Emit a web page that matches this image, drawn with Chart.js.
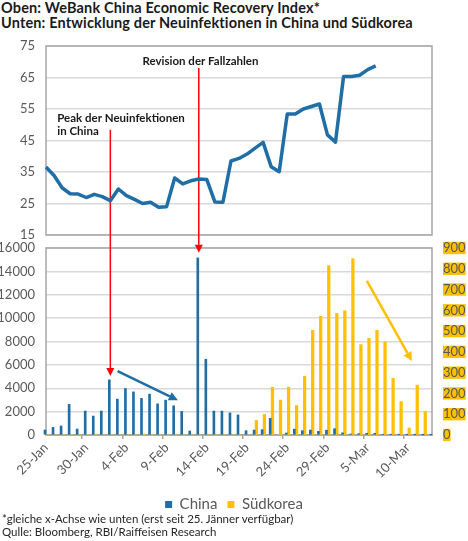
<!DOCTYPE html>
<html><head><meta charset="utf-8">
<script src="https://cdn.jsdelivr.net/npm/chart.js@4.4.1/dist/chart.umd.min.js"></script>
<style>
html,body{margin:0;padding:0;background:#fff;width:468px;height:541px;overflow:hidden;font-family:Lato,'Open Sans',sans-serif;}
#title{position:absolute;left:1px;top:0px;font-weight:bold;font-size:14.5px;line-height:15px;color:#1a1a1a;white-space:nowrap;letter-spacing:0.15px;}
#topWrap{position:absolute;left:0;top:36px;width:468px;height:205px;}
#bottomWrap{position:absolute;left:0;top:241px;width:468px;height:281px;}
#notes{position:absolute;left:2px;top:512px;font-size:11.5px;line-height:13px;color:#262626;white-space:nowrap;}
canvas{display:block;}
</style></head><body>
<div id="title">Oben: WeBank China Economic Recovery Index*<br>Unten: Entwicklung der Neuinfektionen in China und Südkorea</div>
<div id="topWrap"><canvas id="top" width="468" height="205"></canvas></div>
<div id="bottomWrap"><canvas id="bottom" width="468" height="281"></canvas></div>
<div id="notes">*gleiche x-Achse wie unten (erst seit 25. Jänner verfügbar)<br>Qulle: Bloomberg, RBI/Raiffeisen Research</div>
<script>
// ---------- data ----------
const dates = ['25-Jan','26-Jan','27-Jan','28-Jan','29-Jan','30-Jan','31-Jan',
  '1-Feb','2-Feb','3-Feb','4-Feb','5-Feb','6-Feb','7-Feb','8-Feb','9-Feb','10-Feb',
  '11-Feb','12-Feb','13-Feb','14-Feb','15-Feb','16-Feb','17-Feb','18-Feb','19-Feb',
  '20-Feb','21-Feb','22-Feb','23-Feb','24-Feb','25-Feb','26-Feb','27-Feb','28-Feb','29-Feb',
  '1-Mar','2-Mar','3-Mar','4-Mar','5-Mar','6-Mar','7-Mar','8-Mar','9-Mar','10-Mar',
  '11-Mar','12-Mar','13-Mar'];
const tickLabels = ['25-Jan','30-Jan','4-Feb','9-Feb','14-Feb','19-Feb','24-Feb','29-Feb','5-Mar','10-Mar'];
const recoveryIndex = [36.6,33.9,30.0,28.1,28.0,26.9,27.9,27.2,25.9,29.6,27.5,26.3,25.0,25.4,23.8,24.0,
  33.1,31.2,32.2,32.8,32.6,25.5,25.4,38.5,39.3,40.7,42.6,44.4,36.7,35.1,53.4,53.4,55.0,55.8,56.6,
  46.8,44.5,65.3,65.3,65.7,67.5,68.7,null,null,null,null,null,null,null];
const chinaCases = [430,650,770,2620,510,2050,1620,2050,4720,3070,3980,3690,3130,3500,2670,2980,2500,2020,
  340,15150,6480,2050,2050,1890,1720,370,425,455,1420,null,170,500,370,425,312,410,540,185,85,113,
  142,142,57,40,40,20,20,10,10];
const koreaCases = [0,0,0,0,0,0,4,0,0,0,0,0,4,0,0,0,0,0,0,0,0,0,0,0,0,0,
  70,99,229,168,230,142,283,504,571,815,585,598,849,435,465,504,448,273,161,34,240,113,null];

// ---------- styles ----------
const BLUE = '#1f6ea6', GOLD = '#FFC000', RED = '#ff0000';
const TXT = '#595959', GRID = '#d9d9d9', FRAME = '#a6a6a6';
const FONT = 'Lato';

const frame = {
  id: 'frame',
  beforeDatasetsDraw(chart) {
    const {ctx, chartArea: a} = chart;
    ctx.save();
    ctx.strokeStyle = FRAME; ctx.lineWidth = 1.5;
    ctx.strokeRect(a.left, a.top, a.right - a.left, a.bottom - a.top);
    ctx.restore();
  }
};

function arrow(ctx, x1, y1, x2, y2, color, w, hl, hw) {
  const ang = Math.atan2(y2 - y1, x2 - x1);
  const bx = x2 - hl * Math.cos(ang), by = y2 - hl * Math.sin(ang);
  ctx.save();
  ctx.strokeStyle = color; ctx.fillStyle = color; ctx.lineWidth = w;
  ctx.beginPath(); ctx.moveTo(x1, y1); ctx.lineTo(bx, by); ctx.stroke();
  ctx.beginPath();
  ctx.moveTo(x2, y2);
  ctx.lineTo(bx + hw * Math.sin(ang), by - hw * Math.cos(ang));
  ctx.lineTo(bx - hw * Math.sin(ang), by + hw * Math.cos(ang));
  ctx.closePath(); ctx.fill();
  ctx.restore();
}

const topAnnot = {
  id: 'topAnnot',
  beforeDatasetsDraw(chart) {
    const {ctx, scales: {x, y}} = chart;
    ctx.save();
    ctx.strokeStyle = RED; ctx.lineWidth = 1.5;
    const xr = x.getPixelForValue(19);
    ctx.beginPath(); ctx.moveTo(xr, y.getPixelForValue(68)); ctx.lineTo(xr, chart.height); ctx.stroke();
    const xp = x.getPixelForValue(8);
    ctx.beginPath(); ctx.moveTo(xp, y.getPixelForValue(48.4)); ctx.lineTo(xp, chart.height); ctx.stroke();
    ctx.restore();
  },
  afterDraw(chart) {
    const {ctx, scales: {x, y}} = chart;
    ctx.save();
    ctx.fillStyle = '#1a1a1a';
    ctx.font = 'bold 11.5px ' + FONT;
    ctx.textBaseline = 'middle'; ctx.textAlign = 'left';
    ctx.fillText('Revision der Fallzahlen', x.getPixelForValue(12), y.getPixelForValue(70.3));
    ctx.fillText('Peak der Neuinfektionen', x.getPixelForValue(1.4), y.getPixelForValue(51.9));
    ctx.fillText('in China', x.getPixelForValue(1.4), y.getPixelForValue(47.8));
    ctx.restore();
  }
};

const bottomAnnot = {
  id: 'bottomAnnot',
  afterDatasetsDraw(chart) {
    const {ctx, scales: {x, y, y1}} = chart;
    const xr = x.getPixelForValue(19), xp = x.getPixelForValue(8);
    arrow(ctx, xr, 0, xr, y.getPixelForValue(15600), RED, 1.5, 8, 4);
    arrow(ctx, xp, 0, xp, y.getPixelForValue(5050), RED, 1.5, 8, 4);
    arrow(ctx, x.getPixelForValue(8.9), y.getPixelForValue(5470), x.getPixelForValue(16.4), y.getPixelForValue(2980), BLUE, 2.5, 9, 4.5);
    arrow(ctx, x.getPixelForValue(39.9), y1.getPixelForValue(742), x.getPixelForValue(45.5), y1.getPixelForValue(356), GOLD, 2.5, 9, 4.5);
  }
};

Chart.defaults.font.family = FONT;
const noPad = s => { s.paddingTop = 0; s.paddingBottom = 0; };
const plain = v => String(v);

new Chart(document.getElementById('top'), {
  type: 'line',
  data: {labels: dates, datasets: [{
    label: 'WeBank China Economic Recovery Index', data: recoveryIndex,
    borderColor: BLUE, backgroundColor: BLUE, borderWidth: 3.5, pointRadius: 0, tension: 0, fill: false, clip: false,
    borderJoinStyle: 'round'
  }]},
  options: {
    responsive: false, animation: false,
    layout: {padding: {top: 10, bottom: 6, left: 0, right: 36}},
    plugins: {legend: {display: false}, tooltip: {enabled: false}},
    scales: {
      x: {type: 'category', offset: false, display: false},
      y: {min: 15, max: 75,
        ticks: {stepSize: 10, color: TXT, font: {size: 13}, padding: 11, callback: plain},
        grid: {color: GRID, lineWidth: 1.5, drawTicks: false},
        border: {display: false},
        afterFit: s => { s.width = 46; noPad(s); }}
    }
  },
  plugins: [frame, topAnnot]
});

new Chart(document.getElementById('bottom'), {
  type: 'bar',
  data: {labels: dates, datasets: [
    {label: 'China', data: chinaCases, backgroundColor: BLUE, barThickness: 2, yAxisID: 'y', clip: false},
    {label: 'Südkorea', data: koreaCases, backgroundColor: GOLD, barThickness: 2.6, yAxisID: 'y1', clip: false}
  ]},
  options: {
    responsive: false, animation: false,
    layout: {padding: {top: 7, left: 0, right: 0, bottom: 0}},
    plugins: {
      legend: {position: 'bottom', labels: {boxWidth: 7, boxHeight: 7, color: TXT, font: {size: 15}, padding: 10}},
      tooltip: {enabled: false}
    },
    scales: {
      x: {type: 'category', offset: false,
        grid: {drawOnChartArea: false, tickLength: 4, lineWidth: 1.5,
          tickColor: c => (c.index % 5 === 0 ? FRAME : 'rgba(0,0,0,0)')},
        border: {color: FRAME, width: 1.5},
        ticks: {autoSkip: false, maxRotation: 45, minRotation: 45, color: TXT, font: {size: 13}, padding: 1,
          callback: function (v, i) { return tickLabels.includes(dates[i]) ? dates[i] : ''; }},
        afterFit: s => { s.height = 52; }},
      y: {position: 'left', min: 0, max: 16000,
        ticks: {stepSize: 2000, color: TXT, font: {size: 13}, padding: 11, callback: plain},
        grid: {color: GRID, lineWidth: 1.5, drawTicks: false},
        border: {display: false},
        afterFit: s => { s.width = 46; noPad(s); }},
      y1: {position: 'right', min: 0, max: 900,
        ticks: {stepSize: 100, color: TXT, font: {size: 13, lineHeight: 0.95}, padding: 11, callback: plain,
          showLabelBackdrop: true, backdropColor: GOLD, backdropPadding: 0},
        grid: {drawOnChartArea: false, drawTicks: false},
        border: {display: false},
        afterFit: s => { s.width = 36; noPad(s); }}
    }
  },
  plugins: [frame, bottomAnnot]
});
</script>
</body></html>
